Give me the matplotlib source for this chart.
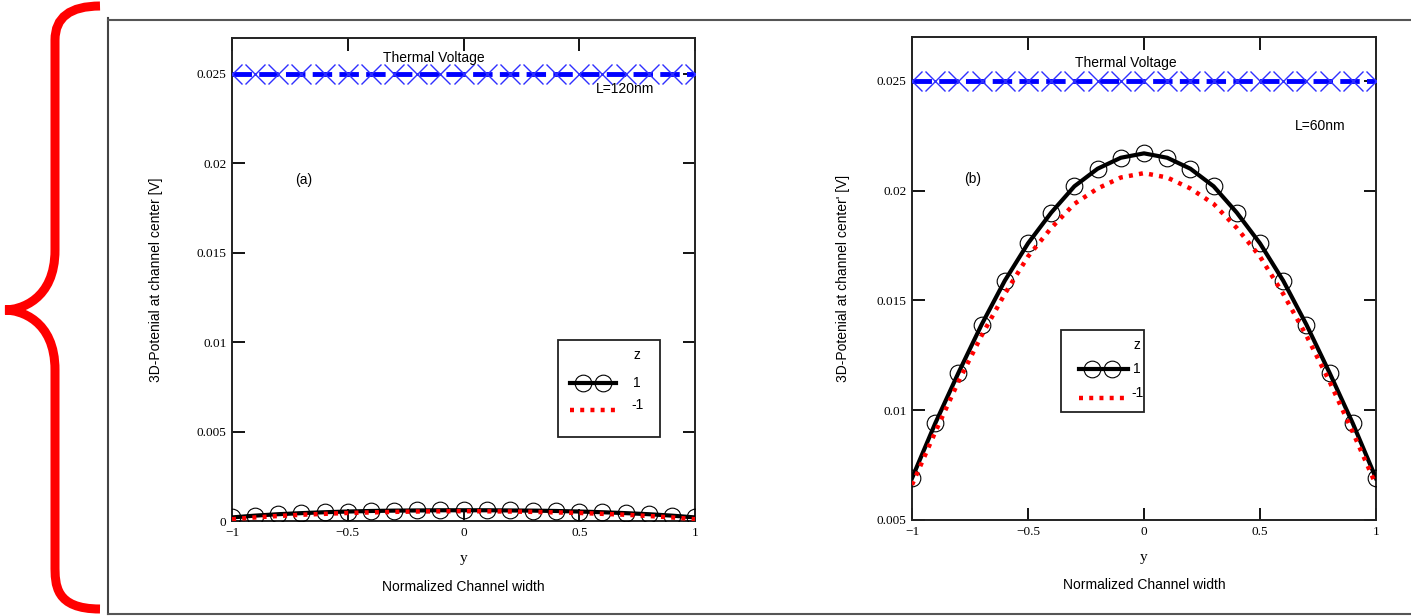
import numpy as np
import matplotlib
matplotlib.use("Agg")
import matplotlib.pyplot as plt
from matplotlib.path import Path
from matplotlib.patches import PathPatch, Rectangle
from matplotlib.lines import Line2D

# Données
y_pos = [-1.0, -0.9, -0.8, -0.7, -0.6, -0.5, -0.4, -0.3, -0.2, -0.1, 0.0,
         0.1, 0.2, 0.3, 0.4, 0.5, 0.6, 0.7, 0.8, 0.9, 1.0]
thermal_v = [0.025] * 21

# (a) L=120nm
pot_a_z1 = [0.00020, 0.00030, 0.00038, 0.00044, 0.00049, 0.00053, 0.00056, 0.00058, 0.00059, 0.00060, 0.00060,
            0.00060, 0.00059, 0.00058, 0.00056, 0.00053, 0.00049, 0.00044, 0.00038, 0.00030, 0.00020]
pot_a_zm1 = [0.00010, 0.00020, 0.00028, 0.00035, 0.00040, 0.00045, 0.00048, 0.00051, 0.00053, 0.00054, 0.00055,
             0.00054, 0.00053, 0.00051, 0.00048, 0.00045, 0.00040, 0.00035, 0.00028, 0.00020, 0.00010]

# (b) L=60nm
pot_b_z1 = [0.0069, 0.0094, 0.0117, 0.0139, 0.0159, 0.0176, 0.0190, 0.0202, 0.0210, 0.0215, 0.0217,
            0.0215, 0.0210, 0.0202, 0.0190, 0.0176, 0.0159, 0.0139, 0.0117, 0.0094, 0.0069]
pot_b_zm1 = [0.0066, 0.0090, 0.0113, 0.0134, 0.0153, 0.0170, 0.0183, 0.0194, 0.0201, 0.0206, 0.0208,
             0.0206, 0.0201, 0.0194, 0.0183, 0.0170, 0.0153, 0.0134, 0.0113, 0.0090, 0.0066]

xticks = [-1, -0.5, 0, 0.5, 1]
xtick_labels = ["\u22121", "\u22120.5", "0", "0.5", "1"]

W, H = 1411, 616
fig = plt.figure(figsize=(W / 100, H / 100), dpi=100)
fig.patch.set_facecolor("white")

def fx(px):
    return px / W

def fy(py):
    return 1 - py / H

tick_font = {"family": "Liberation Serif", "size": 9.5}
text_font = {"family": "Liberation Sans", "size": 10}


def make_panel(rect, ymin, yticks, ytick_labels, z1, zm1, ylabel, ypad, tv_x, letter, letter_pos,
               lname, lpos, xl_y, leg):
    ax = fig.add_axes(rect)
    ax.set_xlim(-1, 1)
    ax.set_ylim(ymin, 0.027)
    ax.set_xticks(xticks)
    ax.set_xticklabels(xtick_labels, fontdict=tick_font)
    ax.set_yticks(yticks)
    ax.set_yticklabels(ytick_labels, fontdict=tick_font)
    ax.tick_params(direction="in", length=9, width=1.3, top=True, right=True, pad=4)
    for s in ax.spines.values():
        s.set_linewidth(1.4)
        s.set_color("#222222")

    # Tension thermique
    ax.plot(y_pos, thermal_v, color="#0000ff", lw=3.5, dashes=(4, 1.5), zorder=3)
    ax.plot(y_pos, thermal_v, ls="none", marker="x", ms=15, mew=1, color="#3030ff", zorder=3)
    ax.text(tv_x, 0.0255, "Thermal Voltage", ha="center", va="bottom", fontdict=text_font)

    # Courbes z = 1 et z = -1
    ax.plot(y_pos, z1, color="black", lw=3, zorder=4)
    ax.plot(y_pos, z1, ls="none", marker="o", ms=12, mfc="none", mec="black", mew=0.8, zorder=4)
    ax.plot(y_pos, zm1, color="red", lw=3.2, dashes=(0.9, 1.4), zorder=5)

    ax.text(letter_pos[0], letter_pos[1], letter, transform=ax.transAxes, ha="center", va="center", fontdict=text_font)
    ax.text(lpos[0], lpos[1], lname, transform=ax.transAxes, ha="center", va="center", fontdict=text_font)

    ax.set_ylabel(ylabel, fontdict={"family": "Liberation Sans", "size": 10}, labelpad=ypad)
    ax.set_xlabel("y", fontdict={"family": "Liberation Serif", "size": 11}, labelpad=10)
    ax.text(0.5, xl_y, "Normalized Channel width", transform=ax.transAxes, ha="center", va="center", fontdict=text_font)

    # Légende
    bx0, bx1, by0, by1, zx, zy, y1, ym1, lx0, lx1, cx = leg
    ax.add_patch(Rectangle((bx0, by0), bx1 - bx0, by1 - by0, transform=ax.transAxes,
                           fill=False, lw=1.3, ec="#222222", zorder=6))
    ax.text(zx, zy, "z", transform=ax.transAxes, ha="center", va="center", fontdict=text_font)
    ax.text(zx, y1, "1", transform=ax.transAxes, ha="center", va="center", fontdict=text_font)
    ax.text(zx, ym1, "-1", transform=ax.transAxes, ha="center", va="center", fontdict=text_font)
    ax.add_line(Line2D([lx0, lx1], [y1, y1], transform=ax.transAxes, color="black", lw=3, zorder=7))
    ax.add_line(Line2D(cx, [y1] * len(cx), transform=ax.transAxes, ls="none", marker="o", ms=12,
                       mfc="none", mec="black", mew=0.8, zorder=7))
    ax.add_line(Line2D([lx0, lx1], [ym1 - 0.01, ym1 - 0.01], transform=ax.transAxes, color="red",
                       lw=3.2, dashes=(0.9, 1.4), zorder=7))
    return ax


ax1 = make_panel([fx(232), fy(521), fx(695 - 232), (521 - 38) / H],
                 0, [0, 0.005, 0.01, 0.015, 0.02, 0.025],
                 ["0", "0.005", "0.01", "0.015", "0.02", "0.025"],
                 pot_a_z1, pot_a_zm1,
                 "3D-Potenial at channel center [V]", 24, -0.13, "(a)", (0.155, 0.705),
                 "L=120nm", (0.85, 0.895), -0.137,
                 (0.704, 0.924, 0.174, 0.375, 0.875, 0.344, 0.286, 0.24, 0.73, 0.83, [0.758, 0.802]))

ax2 = make_panel([fx(912), fy(520), fx(1376 - 912), (520 - 37) / H],
                 0.005, [0.005, 0.01, 0.015, 0.02, 0.025],
                 ["0.005", "0.01", "0.015", "0.02", "0.025"],
                 pot_b_z1, pot_b_zm1,
                 "3D-Potenial at channel center' [V]", 19, -0.08, "(b)", (0.13, 0.705),
                 "L=60nm", (0.88, 0.815), -0.135,
                 (0.322, 0.5, 0.224, 0.393, 0.485, 0.362, 0.313, 0.263, 0.36, 0.466, [0.388, 0.432]))

# Cadres extérieurs
fig.add_artist(Line2D([fx(108), fx(108)], [fy(18), fy(614)], transform=fig.transFigure, color="#444444", lw=1.5))
fig.add_artist(Line2D([fx(108), 1.0], [fy(20), fy(20)], transform=fig.transFigure, color="#555555", lw=1.5))
fig.add_artist(Line2D([fx(108), 1.0], [fy(614), fy(614)], transform=fig.transFigure, color="#555555", lw=1.5))

# Accolade rouge
verts = [(100, 6), (55, 6), (55, 40), (55, 60),
         (55, 250),
         (55, 300), (20, 310), (5, 310),
         (20, 310), (55, 320), (55, 370),
         (55, 565),
         (55, 585), (55, 609), (100, 609)]
codes = [Path.MOVETO, Path.CURVE3, Path.CURVE3, Path.LINETO,
         Path.LINETO,
         Path.CURVE4, Path.CURVE4, Path.CURVE4,
         Path.CURVE4, Path.CURVE4, Path.CURVE4,
         Path.LINETO,
         Path.CURVE4, Path.CURVE4, Path.CURVE4]
brace = Path([(fx(a), fy(b)) for a, b in verts], codes)
fig.add_artist(PathPatch(brace, transform=fig.transFigure, fill=False, ec="red", lw=6.5, capstyle="butt"))

fig.savefig("out.png", dpi=100)
